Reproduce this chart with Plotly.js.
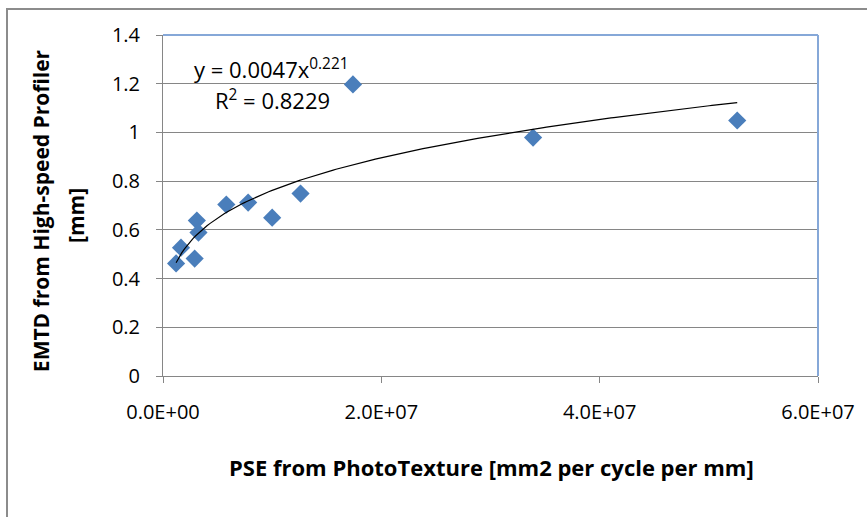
<!DOCTYPE html>
<html><head><meta charset="utf-8">
<script src="https://cdn.plot.ly/plotly-3.0.1.min.js"></script>
<style>
body{margin:0;background:#fff;overflow:hidden}
#chart{position:absolute;left:0;top:0;width:867px;height:517px}
#frame{position:absolute;left:6px;top:8px;width:900px;height:600px;border-left:2px solid #8c8c8c;border-top:2px solid #8c8c8c;pointer-events:none}
</style>
</head><body>
<div id="chart"></div><div id="frame"></div>
<script>
// PSE from PhotoTexture [mm2 per cycle per mm]
const pse  = [1.2e6, 1.65e6, 2.9e6, 3.1e6, 3.25e6, 5.8e6, 7.8e6, 1.0e7, 1.26e7, 1.74e7, 3.39e7, 5.26e7];
// EMTD from High-speed Profiler [mm]
const emtd = [0.462, 0.527, 0.482, 0.638, 0.589, 0.704, 0.712, 0.650, 0.749, 1.197, 0.979, 1.049];

const xTickVals = [0, 2e7, 4e7, 6e7];
const xTickText = ["0.0E+00", "2.0E+07", "4.0E+07", "6.0E+07"];
const yTickVals = [0, 0.2, 0.4, 0.6, 0.8, 1, 1.2, 1.4];
const yTickText = ["0", "0.2", "0.4", "0.6", "0.8", "1", "1.2", "1.4"];

const eqText = "y = 0.0047x<sup>0.221</sup>";
const r2Text = "R<sup>2</sup> = 0.8229";

// Power trendline (least squares on log-log), as the spreadsheet does
const lx = pse.map(Math.log), ly = emtd.map(Math.log);
const n = lx.length;
const mx = lx.reduce((a,b)=>a+b,0)/n, my = ly.reduce((a,b)=>a+b,0)/n;
let sxy=0, sxx=0;
for (let i=0;i<n;i++){ sxy += (lx[i]-mx)*(ly[i]-my); sxx += (lx[i]-mx)**2; }
const b = sxy/sxx, lnA = my - b*mx;
const xmin = Math.min(...pse), xmax = Math.max(...pse);
const tx = [], ty = [];
for (let i=0;i<=200;i++){ const x = xmin + (xmax-xmin)*i/200; tx.push(x); ty.push(Math.exp(lnA + b*Math.log(x))); }

const FONT = '"Open Sans", "DejaVu Sans", sans-serif';
const axisCol = '#868686';

const data = [
  {x: pse, y: emtd, type:'scatter', mode:'markers',
   marker:{symbol:'diamond', size:14, color:'#4A7EBB'}, hoverinfo:'x+y', cliponaxis:false},
  {x: tx, y: ty, type:'scatter', mode:'lines', line:{color:'#000', width:1.2}, hoverinfo:'skip'}
];

const layout = {
  width:867, height:517,
  margin:{l:163, r:49, t:35, b:141, pad:0},
  paper_bgcolor:'rgba(0,0,0,0)', plot_bgcolor:'#fff',
  showlegend:false,
  font:{family:FONT, size:20, color:'#000'},
  xaxis:{range:[0,6e7], tickmode:'array', tickvals:xTickVals, ticktext:xTickText,
    showgrid:false, zeroline:false, showline:true, linecolor:axisCol, linewidth:1,
    ticks:'outside', ticklen:6, tickcolor:axisCol, tickwidth:1,
    ticklabelstandoff:12, tickfont:{family:FONT, size:20, color:'#000'}},
  yaxis:{range:[0,1.4], tickmode:'array', tickvals:yTickVals, ticktext:yTickText,
    showgrid:true, gridcolor:axisCol, gridwidth:1, zeroline:false,
    showline:true, linecolor:axisCol, linewidth:1,
    ticks:'outside', ticklen:6, tickcolor:axisCol, tickwidth:1,
    ticklabelstandoff:12, tickfont:{family:FONT, size:20, color:'#000'}},
  shapes:[
    {type:'line', xref:'paper', yref:'paper', x0:0, x1:1, y0:1, y1:1, line:{color:'#86A8D8', width:2}},
    {type:'line', xref:'paper', yref:'paper', x0:1, x1:1, y0:0, y1:1, line:{color:'#86A8D8', width:2}}
  ],
  annotations:[
    {text:eqText, xref:'paper', yref:'paper', x:0.044, y:0.903, xanchor:'left', yanchor:'middle', showarrow:false, font:{family:FONT, size:22, color:'#000'}},
    {text:r2Text, xref:'paper', yref:'paper', x:0.076, y:0.812, xanchor:'left', yanchor:'middle', showarrow:false, font:{family:FONT, size:22, color:'#000'}},
    {text:'<b>PSE from PhotoTexture [mm2 per cycle per mm]</b>', xref:'paper', yref:'paper', x:0.501, y:-0.267, xanchor:'center', yanchor:'middle', showarrow:false, font:{family:FONT, size:22, color:'#000'}},
    {text:'<b>EMTD from High-speed Profiler</b>', xref:'paper', yref:'paper', x:-0.186, y:0.484, xanchor:'center', yanchor:'middle', textangle:-90, showarrow:false, font:{family:FONT, size:21, color:'#000'}},
    {text:'<b>[mm]</b>', xref:'paper', yref:'paper', x:-0.134, y:0.47, xanchor:'center', yanchor:'middle', textangle:-90, showarrow:false, font:{family:FONT, size:21, color:'#000'}}
  ]
};

Plotly.newPlot('chart', data, layout, {staticPlot:true, displayModeBar:false});
</script>
</body></html>
